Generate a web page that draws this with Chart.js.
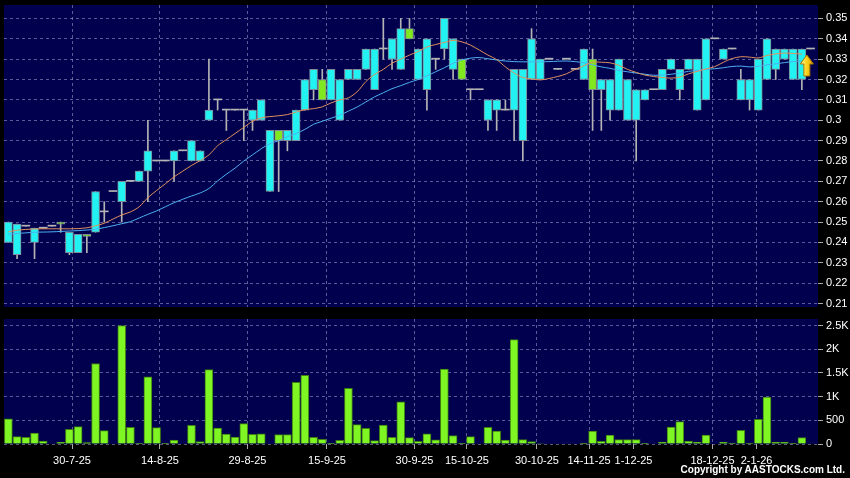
<!DOCTYPE html>
<html>
<head>
<meta charset="utf-8">
<script src="https://cdn.jsdelivr.net/npm/chart.js@4.4.1/dist/chart.umd.min.js"></script>
<style>
  html, body { margin: 0; padding: 0; background: #000; }
  #wrap { position: relative; width: 850px; height: 478px; overflow: hidden; background: #000; }
  #priceChart { position: absolute; left: 0; top: 0; }
  #volChart { position: absolute; left: 0; top: 312px; }
  #copy {
    position: absolute; right: 5px; top: 464px;
    font: bold 10px "Liberation Sans", Arial, sans-serif;
    line-height: 12px; color: #fff; white-space: nowrap;
  }
</style>
</head>
<body>
<div id="wrap">
  <canvas id="priceChart" width="850" height="312"></canvas>
  <canvas id="volChart" width="850" height="166"></canvas>
  <div id="copy">Copyright by AASTOCKS.com Ltd.</div>
</div>
<script>
/* ---- data (one slot per trading day) ---- */

const open = [
  0.240, 0.234, 0.248, 0.240, 0.247, 0.248, 0.250, 0.235, 0.235, 0.244,
  0.245, 0.255, 0.265, 0.260, 0.270, 0.270, 0.275, 0.280, 0.280, 0.280,
  0.285, 0.280, 0.280, 0.300, 0.310, 0.305, 0.305, 0.305, 0.300, 0.300,
  0.265, 0.295, 0.290, 0.290, 0.305, 0.315, 0.320, 0.310, 0.300, 0.320,
  0.320, 0.325, 0.315, 0.335, 0.330, 0.325, 0.345, 0.320, 0.315, 0.330,
  0.335, 0.325, 0.330, 0.315, 0.315, 0.300, 0.305, 0.305, 0.305, 0.290,
  0.320, 0.320, 0.330, 0.325, 0.330, 0.325, 0.320, 0.330, 0.315, 0.305,
  0.305, 0.300, 0.300, 0.310, 0.315, 0.315, 0.325, 0.315, 0.325, 0.305,
  0.310, 0.340, 0.330, 0.335, 0.310, 0.310, 0.305, 0.320, 0.325, 0.330,
  0.320, 0.320, 0.335
];
const high = [
  0.250, 0.249, 0.248, 0.247, 0.247, 0.248, 0.250, 0.245, 0.244, 0.244,
  0.265, 0.260, 0.265, 0.270, 0.270, 0.275, 0.300, 0.280, 0.280, 0.285,
  0.285, 0.290, 0.285, 0.330, 0.310, 0.305, 0.305, 0.305, 0.305, 0.310,
  0.295, 0.295, 0.295, 0.305, 0.320, 0.325, 0.325, 0.325, 0.320, 0.325,
  0.325, 0.335, 0.335, 0.350, 0.340, 0.350, 0.350, 0.335, 0.340, 0.330,
  0.350, 0.340, 0.330, 0.315, 0.315, 0.310, 0.310, 0.310, 0.325, 0.325,
  0.345, 0.330, 0.330, 0.325, 0.330, 0.325, 0.335, 0.335, 0.320, 0.320,
  0.330, 0.320, 0.315, 0.315, 0.315, 0.325, 0.330, 0.325, 0.330, 0.330,
  0.340, 0.340, 0.335, 0.335, 0.325, 0.320, 0.330, 0.340, 0.335, 0.335,
  0.335, 0.335, 0.335
];
const low = [
  0.240, 0.232, 0.248, 0.232, 0.247, 0.248, 0.245, 0.234, 0.235, 0.235,
  0.245, 0.250, 0.265, 0.250, 0.270, 0.270, 0.260, 0.280, 0.280, 0.270,
  0.285, 0.280, 0.280, 0.300, 0.305, 0.295, 0.305, 0.290, 0.295, 0.300,
  0.265, 0.265, 0.285, 0.290, 0.305, 0.310, 0.310, 0.310, 0.300, 0.320,
  0.320, 0.325, 0.315, 0.330, 0.325, 0.325, 0.340, 0.320, 0.305, 0.325,
  0.330, 0.320, 0.320, 0.310, 0.315, 0.295, 0.295, 0.305, 0.290, 0.280,
  0.320, 0.320, 0.330, 0.325, 0.330, 0.325, 0.320, 0.295, 0.295, 0.300,
  0.305, 0.300, 0.280, 0.310, 0.315, 0.315, 0.325, 0.310, 0.325, 0.305,
  0.310, 0.340, 0.330, 0.335, 0.310, 0.305, 0.305, 0.320, 0.320, 0.330,
  0.320, 0.315, 0.335
];
const close = [
  0.250, 0.249, 0.248, 0.247, 0.247, 0.248, 0.249, 0.245, 0.244, 0.243,
  0.265, 0.255, 0.265, 0.270, 0.270, 0.275, 0.285, 0.280, 0.280, 0.285,
  0.285, 0.290, 0.285, 0.305, 0.310, 0.305, 0.305, 0.305, 0.305, 0.310,
  0.295, 0.290, 0.295, 0.305, 0.320, 0.325, 0.310, 0.325, 0.320, 0.325,
  0.325, 0.335, 0.335, 0.335, 0.340, 0.345, 0.340, 0.335, 0.340, 0.330,
  0.350, 0.340, 0.320, 0.315, 0.315, 0.310, 0.310, 0.305, 0.325, 0.325,
  0.340, 0.330, 0.330, 0.325, 0.330, 0.325, 0.335, 0.315, 0.320, 0.320,
  0.330, 0.320, 0.315, 0.315, 0.315, 0.325, 0.330, 0.325, 0.330, 0.330,
  0.340, 0.340, 0.335, 0.335, 0.320, 0.320, 0.330, 0.340, 0.335, 0.335,
  0.335, 0.335, 0.335
];
const volume = [
  530, 155, 140, 230, 63, 0, 35, 310, 366, 28,
  1700, 282, 0, 2500, 352, 5, 1420, 345, 5, 84,
  0, 394, 49, 1570, 338, 211, 148, 429, 204, 215,
  0, 197, 197, 1304, 1452, 141, 99, 5, 78, 1177,
  409, 331, 70, 402, 141, 888, 134, 56, 215, 90,
  1580, 180, 3, 155, 0, 352, 275, 85, 2205, 92,
  52, 10, 0, 0, 0, 0, 5, 275, 56, 190,
  92, 92, 92, 3, 0, 42, 359, 472, 63, 35,
  190, 0, 35, 20, 289, 21, 521, 993, 35, 35,
  3, 134, 0
];
// moving averages as drawn (orange = short, blue = long)
const maShort = [
  0.2452, 0.2460, 0.2464, 0.2466, 0.2467, 0.2467, 0.2467, 0.2467, 0.2468, 0.2472,
  0.2482, 0.2494, 0.2515, 0.2535, 0.2550, 0.2575, 0.2620, 0.2655, 0.2688, 0.2722,
  0.2750, 0.2778, 0.2802, 0.2830, 0.2875, 0.2905, 0.2935, 0.2965, 0.2995, 0.3012,
  0.3018, 0.3022, 0.3028, 0.3040, 0.3052, 0.3057, 0.3066, 0.3085, 0.3100, 0.3110,
  0.3140, 0.3190, 0.3225, 0.3250, 0.3280, 0.3300, 0.3320, 0.3338, 0.3360, 0.3372,
  0.3382, 0.3392, 0.3385, 0.3369, 0.3345, 0.3320, 0.3298, 0.3262, 0.3232, 0.3210,
  0.3203, 0.3198, 0.3205, 0.3215, 0.3228, 0.3250, 0.3268, 0.3285, 0.3285, 0.3282,
  0.3270, 0.3250, 0.3235, 0.3222, 0.3215, 0.3210, 0.3207, 0.3212, 0.3228, 0.3240,
  0.3252, 0.3263, 0.3285, 0.3303, 0.3312, 0.3310, 0.3306, 0.3318, 0.3326, 0.3330,
  0.3328, 0.3325, null
];
const maLong = [
  0.2440, 0.2444, 0.2447, 0.2450, 0.2451, 0.2452, 0.2454, 0.2456, 0.2458, 0.2461,
  0.2465, 0.2473, 0.2482, 0.2492, 0.2502, 0.2520, 0.2538, 0.2555, 0.2575, 0.2595,
  0.2612, 0.2628, 0.2643, 0.2665, 0.2702, 0.2735, 0.2765, 0.2800, 0.2830, 0.2860,
  0.2885, 0.2900, 0.2920, 0.2935, 0.2955, 0.2980, 0.2995, 0.3010, 0.3025, 0.3045,
  0.3065, 0.3090, 0.3115, 0.3135, 0.3155, 0.3170, 0.3186, 0.3200, 0.3218, 0.3238,
  0.3258, 0.3280, 0.3296, 0.3305, 0.3308, 0.3302, 0.3296, 0.3291, 0.3288, 0.3287,
  0.3287, 0.3287, 0.3288, 0.3290, 0.3291, 0.3288, 0.3282, 0.3272, 0.3262, 0.3255,
  0.3245, 0.3238, 0.3232, 0.3226, 0.3221, 0.3222, 0.3226, 0.3232, 0.3240, 0.3245,
  0.3250, 0.3253, 0.3258, 0.3264, 0.3266, 0.3262, 0.3265, 0.3272, 0.3277, 0.3283,
  0.3288, 0.3290, null
];

const dateLabels = ["30-7-25", "14-8-25", "29-8-25", "15-9-25", "30-9-25", "15-10-25",
                    "30-10-25", "14-11-25", "1-12-25", "18-12-25", "2-1-26"];
// where each date label falls, in day slots
const dateSlots = [7.30, 17.39, 27.42, 36.54, 46.58, 52.59, 60.62, 66.59, 71.69, 80.75, 85.80];

const priceTicks = [0.21, 0.22, 0.23, 0.24, 0.25, 0.26, 0.27, 0.28, 0.29, 0.30, 0.31, 0.32, 0.33, 0.34, 0.35];
const volTicks = [0, 500, 1000, 1500, 2000, 2500];
const volTickLabels = ["0", "500", "1K", "1.5K", "2K", "2.5K"];

/* ---- look ---- */
const NAVY = "#00004f";
const GRID = "rgba(150,150,200,0.6)";
const CYAN = "#22f2f2";
const GREEN_CANDLE = "#7fe81e";
const FONT = { family: "'Liberation Sans', Arial, sans-serif", size: 11 };

const slots = open.map((_, i) => i);
const X_MIN = -0.5, X_MAX = 92.85;

const panelBg = {
    id: "panelBg",
    beforeDraw(chart) {
        const { ctx, chartArea: a } = chart;
        ctx.save();
        ctx.fillStyle = NAVY;
        ctx.fillRect(a.left, a.top, a.right - a.left, a.bottom - a.top);
        ctx.restore();
    }
};

// yellow up arrow next to the last traded day
const lastArrow = {
    id: "lastArrow",
    afterDatasetsDraw(chart) {
        let last = volume.length - 1;
        while (last > 0 && volume[last] <= 0) last--;
        const x = chart.scales.x.getPixelForValue(last) + 5;
        const y = chart.scales.y.getPixelForValue(close[last]) + 6;
        const ctx = chart.ctx;
        ctx.save();
        const g = ctx.createLinearGradient(x - 6, y, x + 6, y);
        g.addColorStop(0, "#fff3a0");
        g.addColorStop(0.5, "#ffd21a");
        g.addColorStop(1, "#e0a000");
        ctx.fillStyle = g;
        ctx.strokeStyle = "#a87800";
        ctx.lineWidth = 1;
        ctx.beginPath();
        ctx.moveTo(x, y);
        ctx.lineTo(x + 6.5, y + 9);
        ctx.lineTo(x + 3, y + 9);
        ctx.lineTo(x + 3, y + 21);
        ctx.lineTo(x - 3, y + 21);
        ctx.lineTo(x - 3, y + 9);
        ctx.lineTo(x - 6.5, y + 9);
        ctx.closePath();
        ctx.fill();
        ctx.stroke();
        ctx.restore();
    }
};

// right-hand value axis with a fixed width and no label overhang padding
const fitRight = (ax) => {
    ax.width = 32;
    ax.paddingTop = 0;
    ax.paddingBottom = 0;
};

const xSlots = (extra) => Object.assign({
    type: "linear",
    min: X_MIN,
    max: X_MAX,
    offset: false,
    afterBuildTicks: (ax) => { ax.ticks = dateSlots.map(v => ({ value: v })); },
    grid: { color: GRID, offset: false, tickColor: "#aaaaaa", tickLength: 5 },
    border: { display: false, dash: [3, 3] }
}, extra);

/* ---- price panel ---- */
new Chart(document.getElementById("priceChart"), {
    type: "bar",
    data: {
        datasets: [
            {
                type: "line",
                data: slots.map(i => ({ x: i, y: maShort[i] })),
                borderColor: "#e1915b",
                borderWidth: 1,
                pointRadius: 0,
                tension: 0.3,
                order: 0
            },
            {
                type: "line",
                data: slots.map(i => ({ x: i, y: maLong[i] })),
                borderColor: "#4fb0f0",
                borderWidth: 1,
                pointRadius: 0,
                tension: 0.3,
                order: 0
            },
            {
                data: slots.map(i => ({ x: i, y: [open[i], close[i]] })),
                grouped: false,
                barThickness: 8,
                minBarLength: 1,
                borderSkipped: false,
                borderColor: "#7d8c98",
                backgroundColor: (c) => {
                    const i = c.dataIndex;
                    if (close[i] === open[i]) return "#b4b4b4";
                    return close[i] > open[i] ? CYAN : GREEN_CANDLE;
                },
                borderWidth: (c) => (close[c.dataIndex] === open[c.dataIndex] ? 0 : 1),
                order: 1
            },
            {
                data: slots.map(i => ({ x: i, y: [low[i], high[i]] })),
                grouped: false,
                barThickness: 1,
                backgroundColor: "#b4b4b4",
                order: 2
            }
        ]
    },
    options: {
        responsive: false,
        animation: false,
        events: [],
        layout: { padding: { left: 4, top: 5, right: 0, bottom: 5 } },
        plugins: { legend: { display: false }, tooltip: { enabled: false } },
        scales: {
            x: xSlots({
                ticks: { display: false },
                grid: { color: GRID, offset: false, drawTicks: false },
                afterFit: (ax) => { ax.height = 0; }
            }),
            y: {
                position: "right",
                min: 0.2083,
                max: 0.3566,
                afterBuildTicks: (ax) => { ax.ticks = priceTicks.map(v => ({ value: v })); },
                afterFit: fitRight,
                ticks: {
                    color: "#ffffff",
                    font: FONT,
                    padding: 3,
                    autoSkip: false,
                    callback: (v) => String(+v.toFixed(2))
                },
                grid: { color: GRID, tickColor: "#aaaaaa", tickLength: 5 },
                border: { display: false, dash: [3, 3] }
            }
        }
    },
    plugins: [panelBg, lastArrow]
});

/* ---- volume panel ---- */
new Chart(document.getElementById("volChart"), {
    type: "bar",
    data: {
        datasets: [
            {
                data: slots.map(i => ({ x: i, y: volume[i] })),
                barThickness: 8,
                backgroundColor: "#7ff523",
                borderColor: "#3d7d12",
                borderWidth: 1
            }
        ]
    },
    options: {
        responsive: false,
        animation: false,
        events: [],
        layout: { padding: { left: 4, top: 7, right: 0, bottom: 0 } },
        plugins: { legend: { display: false }, tooltip: { enabled: false } },
        scales: {
            x: xSlots({
                ticks: {
                    color: "#ffffff",
                    font: FONT,
                    padding: 5,
                    autoSkip: false,
                    maxRotation: 0,
                    callback: (v, i) => dateLabels[i]
                },
                afterFit: (ax) => { ax.height = 34; ax.paddingLeft = 0; ax.paddingRight = 0; }
            }),
            y: {
                position: "right",
                min: 0,
                max: 2640,
                afterBuildTicks: (ax) => { ax.ticks = volTicks.map(v => ({ value: v })); },
                afterFit: fitRight,
                ticks: {
                    color: "#ffffff",
                    font: FONT,
                    padding: 3,
                    autoSkip: false,
                    callback: (v, i) => volTickLabels[i]
                },
                grid: { color: GRID, tickColor: "#aaaaaa", tickLength: 5 },
                border: { display: false, dash: [3, 3] }
            }
        }
    },
    plugins: [panelBg]
});
</script>
</body>
</html>
